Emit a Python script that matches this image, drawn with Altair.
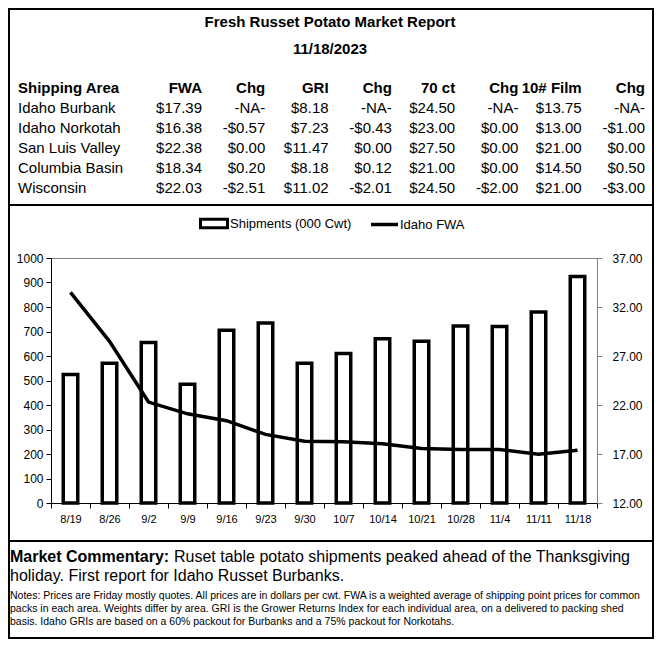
import altair as alt
import pandas as pd

FONT = "Liberation Sans"

# ---------------- data ----------------
weeks = ["8/19", "8/26", "9/2", "9/9", "9/16", "9/23", "9/30", "10/7",
         "10/14", "10/21", "10/28", "11/4", "11/11", "11/18"]
shipments = [525, 570, 655, 485, 705, 735, 570, 610, 670, 660, 722, 720, 780, 925]
idaho_fwa = [33.5, 28.5, 22.3, 21.1, 20.4, 19.0, 18.3, 18.25, 18.05, 17.55,
             17.45, 17.45, 16.98, 17.39]
series_bar = "Shipments (000 Cwt)"
series_line = "Idaho FWA"

report_title = "Fresh Russet Potato Market Report"
report_date = "11/18/2023"
headers = ["Shipping Area", "FWA", "Chg", "GRI", "Chg", "70 ct", "Chg", "10# Film", "Chg"]
areas = ["Idaho Burbank", "Idaho Norkotah", "San Luis Valley", "Columbia Basin", "Wisconsin"]
fwa = ["$17.39", "$16.38", "$22.38", "$18.34", "$22.03"]
fwa_chg = ["-NA-", "-$0.57", "$0.00", "$0.20", "-$2.51"]
gri = ["$8.18", "$7.23", "$11.47", "$8.18", "$11.02"]
gri_chg = ["-NA-", "-$0.43", "$0.00", "$0.12", "-$2.01"]
ct70 = ["$24.50", "$23.00", "$27.50", "$21.00", "$24.50"]
ct70_chg = ["-NA-", "$0.00", "$0.00", "$0.00", "-$2.00"]
film10 = ["$13.75", "$13.00", "$21.00", "$14.50", "$21.00"]
film10_chg = ["-NA-", "-$1.00", "$0.00", "$0.50", "-$3.00"]

commentary_lead = "Market Commentary:"
commentary_line1 = "Ruset table potato shipments peaked ahead of the Thanksgiving"
commentary_line2 = "holiday. First report for Idaho Russet Burbanks."
notes = [
    "Notes: Prices are Friday mostly quotes. All prices are in dollars per cwt. FWA is a weighted average of shipping point prices for  common",
    "packs in each area. Weights differ by area. GRI is the Grower Returns Index for each individual area, on a delivered to packing shed",
    "basis. Idaho GRIs are based on a 60% packout for Burbanks and a 75% packout for Norkotahs.",
]

# ---------------- layout constants ----------------
W = 546
HA, HB, HC = 249, 245, 135

# ---------------- panel A: table ----------------
col_keys = [f"c{i}" for i in range(1, 9)]
value_cols = [fwa, fwa_chg, gri, gri_chg, ct70, ct70_chg, film10, film10_chg]
rows_order = ["header"] + areas

hdr_cells = pd.DataFrame({"row": "header", "col": col_keys, "text": headers[1:]})
body_cells = pd.DataFrame(
    [{"row": a, "col": k, "text": v}
     for k, vals in zip(col_keys, value_cols) for a, v in zip(areas, vals)]
)
name_hdr = pd.DataFrame({"row": ["header"], "text": [headers[0]]})
name_body = pd.DataFrame({"row": areas, "text": areas})

y_tab = alt.Y("row:N", sort=rows_order,
              scale=alt.Scale(type="point", domain=rows_order, range=[79, 179], padding=0),
              axis=None)
x_tab = alt.X("col:N", sort=col_keys,
              scale=alt.Scale(type="point", domain=col_keys, range=[151, 594], padding=0),
              axis=None)

txt = dict(font=FONT, fontSize=15, color="black", baseline="middle")

title_l = alt.Chart(pd.DataFrame({"t": [report_title]})).mark_text(
    fontWeight="bold", align="center", **txt).encode(
    text="t:N", x=alt.value(279), y=alt.value(13))
date_l = alt.Chart(pd.DataFrame({"t": [report_date]})).mark_text(
    fontWeight="bold", align="center", **txt).encode(
    text="t:N", x=alt.value(279), y=alt.value(40))
nh = alt.Chart(name_hdr).mark_text(fontWeight="bold", align="left", **txt).encode(
    text="text:N", y=y_tab, x=alt.value(-33))
nb = alt.Chart(name_body).mark_text(align="left", **txt).encode(
    text="text:N", y=y_tab, x=alt.value(-33))
hh = alt.Chart(hdr_cells).mark_text(fontWeight="bold", align="right", **txt).encode(
    text="text:N", y=y_tab, x=x_tab)
bb = alt.Chart(body_cells).mark_text(align="right", **txt).encode(
    text="text:N", y=y_tab, x=x_tab)

panel_a = alt.layer(title_l, date_l, nh, nb, hh, bb).properties(width=W, height=HA)

# ---------------- panel B: chart ----------------
chart_df = pd.DataFrame({"week": weeks, "ship": shipments, "fwa": idaho_fwa,
                         "s1": series_bar, "s2": series_line})

x_enc = alt.X("week:N", sort=weeks,
              scale=alt.Scale(paddingInner=0, paddingOuter=0),
              axis=alt.Axis(title=None, labelAngle=0, labelFont=FONT, labelFontSize=11,
                            labelColor="black", domainColor="black", tickColor="black",
                            tickBand="extent", tickSize=5, labelPadding=5))

# legends of concatenated views are placed relative to the top panel's origin
bars = alt.Chart(chart_df).mark_bar(stroke="black", strokeWidth=3.5, size=14.5).encode(
    x=x_enc,
    y=alt.Y("ship:Q", scale=alt.Scale(domain=[0, 1000], nice=False),
            axis=alt.Axis(title=None, values=list(range(0, 1001, 100)), grid=False,
                          format="d", labelFont=FONT, labelFontSize=12, labelColor="black",
                          domainColor="black", tickColor="black", tickSize=5,
                          labelPadding=3)),
    fill=alt.Fill("s1:N", scale=alt.Scale(range=["white"]),
                  legend=alt.Legend(orient="none", legendX=148, legendY=199.5, title=None,
                                    symbolType="M-1,-0.315H1V0.315H-1Z", symbolSize=729,
                                    symbolStrokeColor="black", symbolStrokeWidth=3,
                                    labelFont=FONT, labelFontSize=13, labelColor="black",
                                    labelOffset=1, padding=0)),
)

line = alt.Chart(chart_df).mark_line(strokeWidth=3.5).encode(
    x=x_enc,
    y=alt.Y("fwa:Q", scale=alt.Scale(domain=[12, 37], nice=False, zero=False),
            axis=alt.Axis(title=None, orient="right", values=[12, 17, 22, 27, 32, 37],
                          format=".2f", grid=False, labelFont=FONT, labelFontSize=12,
                          labelColor="black", domainColor="#808080", tickColor="#808080",
                          tickSize=5, labelPadding=10)),
    stroke=alt.Stroke("s2:N", scale=alt.Scale(range=["black"]),
                      legend=alt.Legend(orient="none", legendX=318, legendY=200, title=None,
                                        symbolType="stroke", symbolSize=729,
                                        symbolStrokeWidth=3.5, symbolStrokeColor="black",
                                        labelFont=FONT, labelFontSize=13, labelColor="black",
                                        labelOffset=0, padding=0)),
)

panel_b = alt.layer(bars, line).resolve_scale(y="independent").properties(
    width=W, height=HB, view=alt.ViewBackground(stroke="#808080", strokeWidth=1))

# ---------------- panel C: commentary + frame ----------------
one = pd.DataFrame({"a": [0]})
frame = alt.Chart(one).mark_rect(fillOpacity=0, stroke="black", strokeWidth=2).encode(
    x=alt.value(-42), x2=alt.value(602), y=alt.value(-494), y2=alt.value(135))
sep1 = alt.Chart(one).mark_rule(color="black", strokeWidth=2).encode(
    x=alt.value(-42), x2=alt.value(602), y=alt.value(-298))
sep2 = alt.Chart(one).mark_rule(color="black", strokeWidth=2).encode(
    x=alt.value(-42), x2=alt.value(602), y=alt.value(38))

ctxt = dict(font=FONT, fontSize=16, color="black", baseline="middle", align="left")
lead = alt.Chart(pd.DataFrame({"t": [commentary_lead]})).mark_text(
    fontWeight="bold", **ctxt).encode(text="t:N", x=alt.value(-41), y=alt.value(54))
c1 = alt.Chart(pd.DataFrame({"t": [commentary_line1]})).mark_text(**ctxt).encode(
    text="t:N", x=alt.value(123), y=alt.value(54))
c2 = alt.Chart(pd.DataFrame({"t": [commentary_line2]})).mark_text(**ctxt).encode(
    text="t:N", x=alt.value(-41), y=alt.value(73))

notes_df = pd.DataFrame({"i": list(range(len(notes))), "t": notes})
nt = alt.Chart(notes_df).mark_text(font=FONT, fontSize=10.5, color="black",
                                   baseline="middle", align="left").encode(
    text="t:N", x=alt.value(-41),
    y=alt.Y("i:O", scale=alt.Scale(type="point", range=[93, 119], padding=0), axis=None))

panel_c = alt.layer(frame, sep1, sep2, lead, c1, c2, nt).properties(width=W, height=HC)

chart = alt.vconcat(panel_a, panel_b, panel_c, spacing=0, bounds="flush").properties(
    padding=0
).configure(font=FONT).configure_view(strokeWidth=0)

chart.save("out.html", embed_options={"renderer": "svg", "actions": False})
